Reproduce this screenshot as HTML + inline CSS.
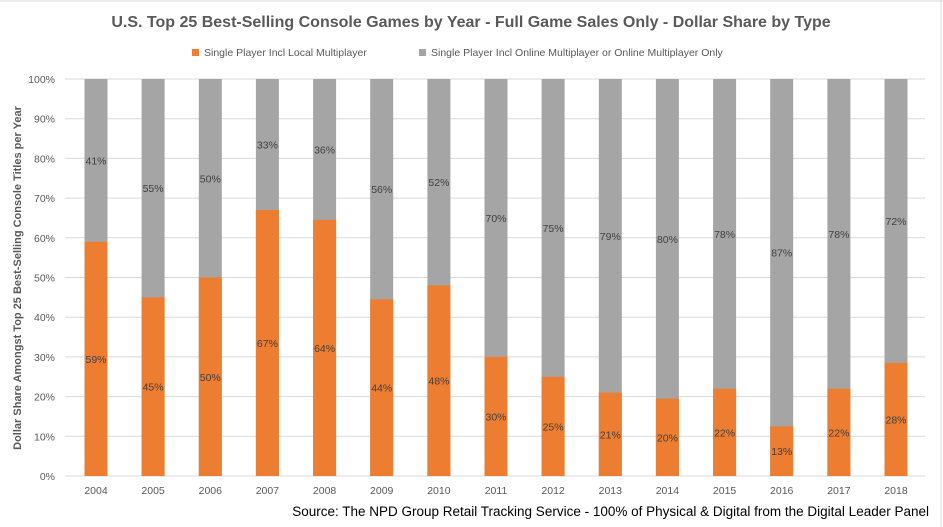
<!DOCTYPE html>
<html><head><meta charset="utf-8"><style>
html,body{margin:0;padding:0;background:#fff}
svg{display:block;font-family:"Liberation Sans",sans-serif}
</style></head><body>
<svg width="943" height="527" xmlns="http://www.w3.org/2000/svg">
<rect x="0" y="0" width="943" height="527" fill="#fff"/>
<line x1="0" y1="1" x2="943" y2="1" stroke="#d9d9d9"/>
<line x1="941" y1="0" x2="941" y2="527" stroke="#d9d9d9"/>
<text x="471" y="27" text-anchor="middle" font-size="16" font-weight="bold" fill="#595959">U.S. Top 25 Best-Selling Console Games by Year - Full Game Sales Only - Dollar Share by Type</text>
<rect x="192" y="49" width="7" height="7" fill="#ed7d31"/>
<text x="204" y="56" font-size="10.5" fill="#595959">Single Player Incl Local Multiplayer</text>
<rect x="419" y="49" width="7" height="7" fill="#a5a5a5"/>
<text x="431" y="56" font-size="10.5" fill="#595959">Single Player Incl Online Multiplayer or Online Multiplayer Only</text>
<text transform="translate(21,278) rotate(-90)" text-anchor="middle" font-size="11" font-weight="bold" fill="#595959">Dollar Share Amongst Top 25 Best-Selling Console Titles per Year</text>
<text x="929" y="516" text-anchor="end" font-size="13.5" fill="#000">Source: The NPD Group Retail Tracking Service - 100% of Physical &amp; Digital from the Digital Leader Panel</text>

<!-- Gridlines and y-axis labels (100%→0% spans y=79→476) -->
<g stroke="#d9d9d9">
<line x1="65" y1="476" x2="925" y2="476"/>
<line x1="65" y1="436.3" x2="925" y2="436.3"/>
<line x1="65" y1="396.6" x2="925" y2="396.6"/>
<line x1="65" y1="356.9" x2="925" y2="356.9"/>
<line x1="65" y1="317.2" x2="925" y2="317.2"/>
<line x1="65" y1="277.5" x2="925" y2="277.5"/>
<line x1="65" y1="237.8" x2="925" y2="237.8"/>
<line x1="65" y1="198.1" x2="925" y2="198.1"/>
<line x1="65" y1="158.4" x2="925" y2="158.4"/>
<line x1="65" y1="118.7" x2="925" y2="118.7"/>
<line x1="65" y1="79" x2="925" y2="79"/>
</g>
<g font-size="10.5" fill="#595959" text-anchor="end">
<text x="55" y="480">0%</text>
<text x="55" y="440.3">10%</text>
<text x="55" y="400.6">20%</text>
<text x="55" y="360.9">30%</text>
<text x="55" y="321.2">40%</text>
<text x="55" y="281.5">50%</text>
<text x="55" y="241.8">60%</text>
<text x="55" y="202.1">70%</text>
<text x="55" y="162.4">80%</text>
<text x="55" y="122.7">90%</text>
<text x="55" y="83">100%</text>
</g>

<!-- Gray bars (full height) -->
<g fill="#a5a5a5">
<rect x="84.5" y="79" width="23" height="397"/>
<rect x="141.6" y="79" width="23" height="397"/>
<rect x="198.8" y="79" width="23" height="397"/>
<rect x="255.9" y="79" width="23" height="397"/>
<rect x="313.1" y="79" width="23" height="397"/>
<rect x="370.2" y="79" width="23" height="397"/>
<rect x="427.4" y="79" width="23" height="397"/>
<rect x="484.5" y="79" width="23" height="397"/>
<rect x="541.6" y="79" width="23" height="397"/>
<rect x="598.8" y="79" width="23" height="397"/>
<rect x="655.9" y="79" width="23" height="397"/>
<rect x="713.1" y="79" width="23" height="397"/>
<rect x="770.2" y="79" width="23" height="397"/>
<rect x="827.4" y="79" width="23" height="397"/>
<rect x="884.5" y="79" width="23" height="397"/>
</g>
<!-- Orange segments -->
<g fill="#ed7d31">
<rect x="84.5" y="241.8" width="23" height="234.2"/>
<rect x="141.6" y="297.4" width="23" height="178.6"/>
<rect x="198.8" y="277.5" width="23" height="198.5"/>
<rect x="255.9" y="210" width="23" height="266"/>
<rect x="313.1" y="219.9" width="23" height="256.1"/>
<rect x="370.2" y="299.3" width="23" height="176.7"/>
<rect x="427.4" y="285.4" width="23" height="190.6"/>
<rect x="484.5" y="356.9" width="23" height="119.1"/>
<rect x="541.6" y="376.8" width="23" height="99.2"/>
<rect x="598.8" y="392.6" width="23" height="83.4"/>
<rect x="655.9" y="398.6" width="23" height="77.4"/>
<rect x="713.1" y="388.7" width="23" height="87.3"/>
<rect x="770.2" y="426.4" width="23" height="49.6"/>
<rect x="827.4" y="388.7" width="23" height="87.3"/>
<rect x="884.5" y="362.9" width="23" height="113.1"/>
</g>

<!-- Data labels -->
<g font-size="10.5" fill="#404040" text-anchor="middle">
<text x="96" y="362.9">59%</text><text x="96" y="164.4">41%</text>
<text x="153.1" y="390.7">45%</text><text x="153.1" y="192.2">55%</text>
<text x="210.3" y="380.8">50%</text><text x="210.3" y="182.3">50%</text>
<text x="267.4" y="347">67%</text><text x="267.4" y="148.5">33%</text>
<text x="324.6" y="352">64%</text><text x="324.6" y="153.5">36%</text>
<text x="381.7" y="391.7">44%</text><text x="381.7" y="193.2">56%</text>
<text x="438.9" y="384.7">48%</text><text x="438.9" y="186.2">52%</text>
<text x="496" y="420.5">30%</text><text x="496" y="222">70%</text>
<text x="553.1" y="430.4">25%</text><text x="553.1" y="231.9">75%</text>
<text x="610.3" y="438.3">21%</text><text x="610.3" y="239.8">79%</text>
<text x="667.4" y="441.3">20%</text><text x="667.4" y="242.8">80%</text>
<text x="724.6" y="436.4">22%</text><text x="724.6" y="237.9">78%</text>
<text x="781.7" y="455.2">13%</text><text x="781.7" y="256.7">87%</text>
<text x="838.9" y="436.4">22%</text><text x="838.9" y="237.9">78%</text>
<text x="896" y="423.5">28%</text><text x="896" y="225">72%</text>
</g>

<!-- X-axis labels -->
<g font-size="10.5" fill="#595959" text-anchor="middle">
<text x="96" y="494">2004</text>
<text x="153.1" y="494">2005</text>
<text x="210.3" y="494">2006</text>
<text x="267.4" y="494">2007</text>
<text x="324.6" y="494">2008</text>
<text x="381.7" y="494">2009</text>
<text x="438.9" y="494">2010</text>
<text x="496" y="494">2011</text>
<text x="553.1" y="494">2012</text>
<text x="610.3" y="494">2013</text>
<text x="667.4" y="494">2014</text>
<text x="724.6" y="494">2015</text>
<text x="781.7" y="494">2016</text>
<text x="838.9" y="494">2017</text>
<text x="896" y="494">2018</text>
</g>
</svg>
</body></html>
